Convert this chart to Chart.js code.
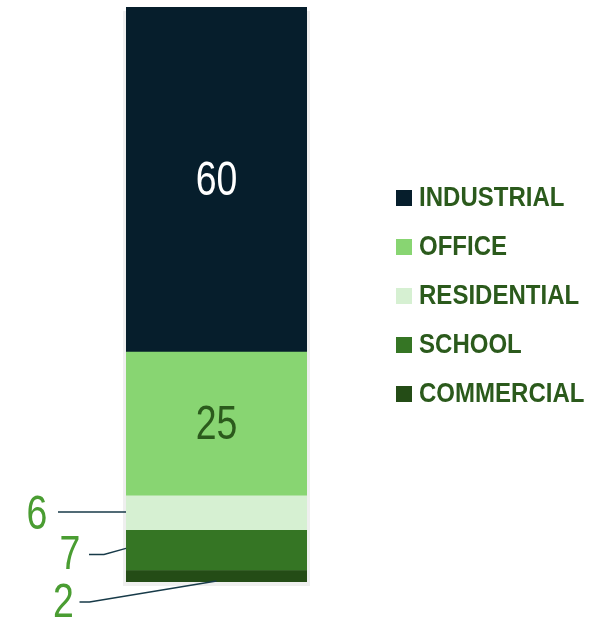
<!DOCTYPE html>
<html>
<head>
<meta charset="utf-8">
<script src="https://cdn.jsdelivr.net/npm/chart.js@4.4.1/dist/chart.umd.min.js"></script>
<style>
  html, body { margin: 0; padding: 0; background: #fff; }
  #wrap { width: 590px; height: 620px; }
</style>
</head>
<body>
<div id="wrap"><canvas id="myChart" width="590" height="620"></canvas></div>
<script>
// data (bottom to top of the stack)
var categories = ['COMMERCIAL', 'SCHOOL', 'RESIDENTIAL', 'OFFICE', 'INDUSTRIAL'];
var shares = [2, 7, 6, 25, 60];
var colors = ['#244c16', '#357524', '#d6f0d2', '#88d572', '#061e2c'];
var legendOrder = ['INDUSTRIAL', 'OFFICE', 'RESIDENTIAL', 'SCHOOL', 'COMMERCIAL'];

var numFont = '"Liberation Sans", Arial, sans-serif';

var datasets = [];
for (let i = 0; i < categories.length; i++) {
    datasets.push({
        label: categories[i],
        data: [shares[i]],
        backgroundColor: colors[i],
        borderWidth: 0,
        barPercentage: 1,
        categoryPercentage: 1
    });
}

// narrow text: squeeze horizontally around the anchor point
function narrowText(ctx, txt, x, y, sx) {
    ctx.save();
    ctx.translate(x, y);
    ctx.scale(sx, 1);
    ctx.fillText(txt, 0, 0);
    ctx.restore();
}

// faint shadow behind the bar
var barShadow = {
    id: 'barShadow',
    beforeDatasetsDraw: function (chart) {
        var a = chart.chartArea, ctx = chart.ctx;
        ctx.save();
        ctx.fillStyle = '#efefef';
        ctx.fillRect(a.left - 3, a.top + 4, a.right - a.left + 6, a.bottom - a.top);
        ctx.restore();
    }
};

// value labels inside big segments, outside with leader lines for small ones
var valueLabels = {
    id: 'valueLabels',
    afterDatasetsDraw: function (chart) {
        var ctx = chart.ctx;
        var y = chart.scales.y;
        var a = chart.chartArea;
        var cx = (a.left + a.right) / 2;
        var base = 0;
        ctx.save();
        ctx.font = '48px ' + numFont;
        ctx.textAlign = 'center';
        ctx.textBaseline = 'middle';
        for (let i = 0; i < shares.length; i++) {
            var y0 = y.getPixelForValue(base);
            var y1 = y.getPixelForValue(base + shares[i]);
            var ym = (y0 + y1) / 2;
            base += shares[i];
            var name = categories[i];
            if (name === 'INDUSTRIAL') {
                ctx.fillStyle = '#ffffff';
                narrowText(ctx, shares[i], cx, ym + 2, 0.78);
            } else if (name === 'OFFICE') {
                ctx.fillStyle = '#2b5a1c';
                narrowText(ctx, shares[i], cx, ym + 2, 0.78);
            } else {
                ctx.strokeStyle = '#173a48';
                ctx.lineWidth = 1.5;
                ctx.beginPath();
                var tx, ty;
                if (name === 'RESIDENTIAL') {
                    ctx.moveTo(a.left, ym - 1);
                    ctx.lineTo(a.left - 68, ym - 1);
                    tx = a.left - 89; ty = ym + 3;
                } else if (name === 'SCHOOL') {
                    ctx.moveTo(a.left, ym - 2);
                    ctx.lineTo(a.left - 22, ym + 4);
                    ctx.lineTo(a.left - 37, ym + 4);
                    tx = a.left - 56; ty = ym + 5;
                } else {
                    ctx.moveTo(cx, y0 - 1);
                    ctx.lineTo(cx - 127, y0 + 20);
                    ctx.lineTo(cx - 137, y0 + 20);
                    tx = cx - 153; ty = y0 + 22;
                }
                ctx.stroke();
                ctx.fillStyle = '#4a9d32';
                narrowText(ctx, shares[i], tx, ty, 0.78);
            }
        }
        ctx.restore();
    }
};

// legend on the right
var sideLegend = {
    id: 'sideLegend',
    afterDraw: function (chart) {
        var ctx = chart.ctx;
        ctx.save();
        ctx.font = 'bold 27px ' + numFont;
        ctx.textAlign = 'left';
        ctx.textBaseline = 'middle';
        for (let i = 0; i < legendOrder.length; i++) {
            var k = categories.indexOf(legendOrder[i]);
            var yy = 198 + i * 49;
            ctx.fillStyle = colors[k];
            ctx.fillRect(396, yy - 8, 16, 16);
            ctx.fillStyle = '#2b5a1c';
            narrowText(ctx, legendOrder[i], 419, yy + 1, 0.89);
        }
        ctx.restore();
    }
};

const ctx = document.getElementById('myChart');
new Chart(ctx, {
    type: 'bar',
    data: {
        labels: ['Share'],
        datasets: datasets
    },
    options: {
        responsive: false,
        animation: false,
        layout: { padding: { left: 126, right: 283, top: 7, bottom: 38 } },
        plugins: {
            legend: { display: false },
            tooltip: { enabled: false }
        },
        scales: {
            x: { stacked: true, display: false },
            y: { stacked: true, display: false, min: 0, max: 100 }
        }
    },
    plugins: [barShadow, valueLabels, sideLegend]
});
</script>
</body>
</html>
